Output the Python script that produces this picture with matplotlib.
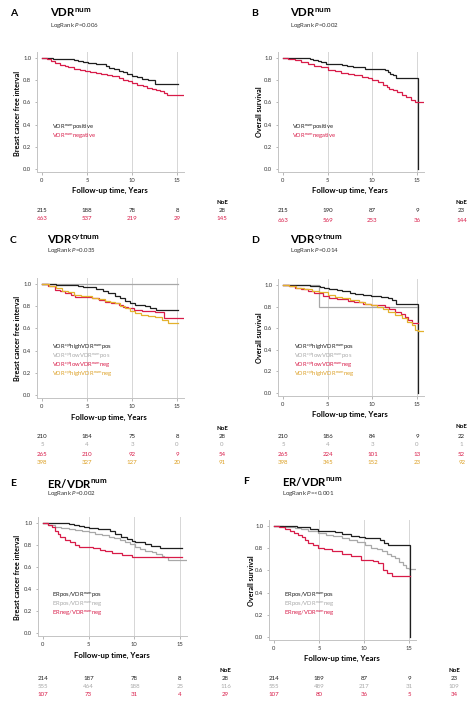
import matplotlib
matplotlib.use("Agg")
import matplotlib.pyplot as plt
import matplotlib.transforms as mtransforms

W, H = 474, 705

plt.rcParams['font.family'] = ['Lato', 'DejaVu Sans']
plt.rcParams['mathtext.fontset'] = 'custom'
plt.rcParams['mathtext.rm'] = 'Lato'
plt.rcParams['mathtext.it'] = 'Lato:italic'
plt.rcParams['mathtext.bf'] = 'Lato:bold'

BLACK = '#1e1e1e'
GRAY = '#a8a8a8'
RED = '#d81b48'
YELLOW = '#e3b12c'
YELLOW_TXT = '#dc9f22'

# ---- curve data (time in years, survival proportion) ----
A_pos_t = [0, 1.2, 2.9, 3.5, 4.0, 4.6, 5.1, 6.0, 6.8, 7.1, 7.4, 8.0, 8.6, 9.0, 9.4, 10.0, 10.5, 11.1, 11.8, 12.6, 15.1]
A_pos_s = [1.0, 0.995, 0.99, 0.98, 0.975, 0.965, 0.955, 0.95, 0.945, 0.93, 0.91, 0.9, 0.885, 0.875, 0.86, 0.84, 0.825, 0.81, 0.8, 0.77, 0.77]
A_neg_t = [0, 0.5, 1.0, 1.4, 2.0, 2.5, 2.9, 3.5, 4.2, 4.8, 5.3, 6.0, 6.6, 7.2, 7.8, 8.5, 9.0, 9.5, 10.0, 10.6, 11.2, 11.7, 12.2, 12.7, 13.1, 13.5, 13.85, 15.7]
A_neg_s = [1.0, 0.99, 0.975, 0.955, 0.94, 0.93, 0.915, 0.905, 0.895, 0.885, 0.875, 0.865, 0.855, 0.845, 0.835, 0.82, 0.805, 0.79, 0.775, 0.76, 0.745, 0.73, 0.725, 0.715, 0.705, 0.685, 0.665, 0.665]

B_pos_t = [0, 2.0, 3.0, 3.4, 3.9, 4.3, 4.8, 6.6, 7.2, 7.8, 9.2, 11.4, 11.8, 12.0, 12.3, 12.7, 15.1, 15.1]
B_pos_s = [1.0, 0.997, 0.99, 0.98, 0.97, 0.96, 0.946, 0.94, 0.93, 0.915, 0.9, 0.89, 0.875, 0.86, 0.845, 0.823, 0.823, 0.0]
B_neg_t = [0, 0.6, 1.3, 2.0, 2.8, 3.5, 4.2, 5.0, 5.8, 6.5, 7.3, 8.0, 8.8, 9.5, 10.0, 10.6, 11.2, 11.6, 11.9, 12.3, 12.8, 13.3, 13.8, 14.3, 14.8, 15.9]
B_neg_s = [1.0, 0.995, 0.98, 0.965, 0.946, 0.93, 0.915, 0.895, 0.88, 0.867, 0.856, 0.843, 0.83, 0.817, 0.8, 0.78, 0.76, 0.74, 0.72, 0.71, 0.69, 0.665, 0.645, 0.625, 0.6, 0.6]

C_hh_t = [0, 1.5, 2.9, 4.0, 4.6, 5.1, 6.0, 6.8, 7.3, 8.1, 8.7, 9.2, 9.8, 10.3, 11.4, 12.0, 12.7, 15.1]
C_hh_s = [1.0, 0.995, 0.99, 0.985, 0.975, 0.97, 0.955, 0.94, 0.915, 0.89, 0.87, 0.85, 0.83, 0.814, 0.8, 0.78, 0.763, 0.763]
C_lp_t = [0, 15.1]
C_lp_s = [1.0, 1.0]
C_ln_t = [0, 0.7, 1.4, 2.0, 2.6, 3.2, 3.7, 4.5, 5.5, 6.3, 7.0, 7.7, 8.5, 9.0, 9.6, 10.2, 11.1, 12.6, 13.5, 15.7]
C_ln_s = [1.0, 0.98, 0.95, 0.935, 0.92, 0.9, 0.885, 0.88, 0.872, 0.855, 0.84, 0.828, 0.81, 0.795, 0.784, 0.77, 0.754, 0.745, 0.694, 0.694]
C_hn_t = [0, 0.8, 1.5, 2.2, 2.9, 3.6, 4.3, 5.5, 6.2, 7.0, 7.6, 8.1, 8.7, 9.2, 9.8, 10.3, 11.0, 11.8, 12.5, 13.3, 14.0, 15.1]
C_hn_s = [1.0, 0.98, 0.96, 0.94, 0.925, 0.905, 0.89, 0.878, 0.865, 0.85, 0.838, 0.828, 0.805, 0.784, 0.76, 0.739, 0.725, 0.71, 0.7, 0.678, 0.648, 0.648]

D_hh_t = [0, 3.0, 4.1, 4.6, 5.1, 6.0, 6.6, 7.5, 8.1, 9.0, 9.9, 11.0, 11.8, 12.2, 12.7, 15.1, 15.1]
D_hh_s = [1.0, 0.995, 0.985, 0.97, 0.96, 0.955, 0.94, 0.93, 0.917, 0.905, 0.895, 0.89, 0.877, 0.86, 0.825, 0.825, 0.0]
D_lp_t = [0, 4.07, 15.1]
D_lp_s = [1.0, 0.8, 0.8]
D_ln_t = [0, 0.7, 1.34, 2.0, 2.8, 3.5, 4.0, 4.5, 5.1, 6.0, 7.3, 8.0, 9.0, 9.9, 11.4, 11.9, 12.5, 13.2, 13.7, 14.0, 14.4, 15.1]
D_ln_s = [1.0, 0.99, 0.975, 0.96, 0.945, 0.93, 0.923, 0.895, 0.877, 0.866, 0.855, 0.843, 0.828, 0.815, 0.793, 0.775, 0.753, 0.735, 0.706, 0.68, 0.645, 0.645]
D_hn_t = [0, 0.7, 1.5, 2.3, 3.2, 4.0, 5.0, 5.8, 6.6, 7.5, 8.5, 9.2, 9.9, 10.5, 11.2, 11.8, 12.5, 13.3, 13.9, 14.4, 14.8, 15.1, 15.9]
D_hn_s = [1.0, 0.99, 0.975, 0.96, 0.945, 0.935, 0.91, 0.89, 0.877, 0.86, 0.84, 0.828, 0.815, 0.795, 0.775, 0.753, 0.72, 0.69, 0.66, 0.63, 0.583, 0.57, 0.57]

E_pp_t = [0, 1.5, 2.8, 3.4, 3.9, 4.5, 5.0, 6.0, 6.8, 7.3, 7.9, 8.5, 9.2, 9.7, 10.1, 11.2, 11.8, 12.8, 15.2]
E_pp_s = [1.0, 0.997, 0.99, 0.985, 0.975, 0.965, 0.957, 0.95, 0.945, 0.925, 0.897, 0.875, 0.855, 0.84, 0.824, 0.81, 0.795, 0.77, 0.77]
E_pn_t = [0, 0.6, 1.3, 2.0, 2.8, 3.5, 4.3, 5.0, 5.7, 6.5, 7.2, 7.8, 8.4, 9.0, 9.5, 10.1, 10.6, 11.2, 11.9, 12.4, 13.0, 13.3, 13.7, 15.9]
E_pn_s = [1.0, 0.985, 0.966, 0.955, 0.945, 0.935, 0.925, 0.915, 0.9, 0.888, 0.875, 0.86, 0.842, 0.824, 0.805, 0.785, 0.765, 0.75, 0.734, 0.72, 0.703, 0.69, 0.664, 0.664]
E_nn_t = [0, 0.5, 0.95, 1.3, 1.6, 1.86, 2.4, 3.0, 3.5, 3.9, 5.5, 6.2, 6.8, 7.6, 8.6, 9.7, 15.2]
E_nn_s = [1.0, 0.985, 0.96, 0.93, 0.9, 0.875, 0.845, 0.825, 0.8, 0.78, 0.77, 0.755, 0.745, 0.73, 0.71, 0.69, 0.69]

F_pp_t = [0, 2.5, 3.4, 4.0, 4.9, 6.8, 7.5, 8.6, 9.4, 10.1, 11.8, 12.2, 12.7, 15.1, 15.1]
F_pp_s = [1.0, 0.995, 0.99, 0.975, 0.958, 0.946, 0.93, 0.907, 0.9, 0.89, 0.877, 0.85, 0.826, 0.826, 0.0]
F_pn_t = [0, 1.0, 2.3, 3.0, 3.8, 4.9, 5.8, 6.6, 7.5, 8.3, 9.2, 10.1, 10.8, 11.4, 12.0, 12.6, 13.0, 13.4, 13.9, 14.3, 14.7, 15.0, 15.9]
F_pn_s = [1.0, 0.995, 0.982, 0.97, 0.955, 0.937, 0.922, 0.907, 0.892, 0.875, 0.855, 0.826, 0.805, 0.79, 0.772, 0.75, 0.73, 0.712, 0.68, 0.65, 0.622, 0.61, 0.61]
F_nn_t = [0, 0.6, 1.2, 1.8, 2.2, 2.7, 3.1, 3.4, 3.8, 4.3, 4.9, 5.5, 6.4, 7.5, 8.6, 9.7, 11.0, 11.6, 12.1, 12.6, 13.1, 15.1]
F_nn_s = [1.0, 0.99, 0.975, 0.955, 0.94, 0.922, 0.9, 0.875, 0.847, 0.825, 0.802, 0.79, 0.772, 0.75, 0.727, 0.697, 0.685, 0.67, 0.606, 0.58, 0.547, 0.547]

# ---- numbers at risk (0, 5, 10, 15 years) and number of events ----
A_risk = [[215, 188, 78, 8], [663, 537, 219, 29]]
A_noe = [28, 145]
B_risk = [[215, 190, 87, 9], [663, 569, 253, 36]]
B_noe = [23, 144]
C_risk = [[210, 184, 75, 8], [5, 4, 3, 0], [265, 210, 92, 9], [398, 327, 127, 20]]
C_noe = [28, 0, 54, 91]
D_risk = [[210, 186, 84, 9], [5, 4, 3, 0], [265, 224, 101, 13], [398, 345, 152, 23]]
D_noe = [22, 1, 52, 92]
E_risk = [[214, 187, 78, 8], [555, 464, 188, 25], [107, 73, 31, 4]]
E_noe = [28, 116, 29]
F_risk = [[214, 189, 87, 9], [555, 489, 217, 31], [107, 80, 36, 5]]
F_noe = [23, 109, 34]

risk_times = [0, 5, 10, 15]
NOE_X = 20

lab_num2 = [r'VDR$^{\mathrm{num}}$positive', r'VDR$^{\mathrm{num}}$negative']
lab_cyt4 = [r'VDR$^{\mathrm{cyt}}$highVDR$^{\mathrm{num}}$pos',
            r'VDR$^{\mathrm{cyt}}$lowVDR$^{\mathrm{num}}$pos',
            r'VDR$^{\mathrm{cyt}}$lowVDR$^{\mathrm{num}}$neg',
            r'VDR$^{\mathrm{cyt}}$highVDR$^{\mathrm{num}}$neg']
lab_er3 = [r'ERpos/VDR$^{\mathrm{num}}$pos',
           r'ERpos/VDR$^{\mathrm{num}}$neg',
           r'ERneg/VDR$^{\mathrm{num}}$neg']

panels = [
    dict(letter='A', title=r'VDR$^{\mathbf{num}}$', p='0.006', ylabel='Breast cancer free interval',
         curves=[(A_pos_t, A_pos_s), (A_neg_t, A_neg_s)], colors=[BLACK, RED], txtcol=[BLACK, RED],
         labels=lab_num2, risk=A_risk, noe=A_noe,
         x0=42, x15=177, y1=58, y0=169,
         letter_xy=(10, 14), title_xy=(50, 13), lr_xy=(50, 25), leg_xy=(52, 127),
         xl_xy=(110, 190), yl_xy=(18, 113), noe_y=202, rows_y=[211, 219]),
    dict(letter='B', title=r'VDR$^{\mathbf{num}}$', p='0.002', ylabel='Overall survival',
         curves=[(B_pos_t, B_pos_s), (B_neg_t, B_neg_s)], colors=[BLACK, RED], txtcol=[BLACK, RED],
         labels=lab_num2, risk=B_risk, noe=B_noe,
         x0=283, x15=417, y1=58, y0=169,
         letter_xy=(251, 14), title_xy=(290, 13), lr_xy=(290, 25), leg_xy=(292, 127),
         xl_xy=(350, 190), yl_xy=(259, 112), noe_y=202, rows_y=[211, 220]),
    dict(letter='C', title=r'VDR$^{\mathbf{cytnum}}$', p='0.035', ylabel='Breast cancer free interval',
         curves=[(C_lp_t, C_lp_s), (C_hh_t, C_hh_s), (C_ln_t, C_ln_s), (C_hn_t, C_hn_s)],
         colors=[GRAY, BLACK, RED, YELLOW],
         txtcol=[BLACK, GRAY, RED, YELLOW_TXT],
         labels=lab_cyt4, risk=C_risk, noe=C_noe,
         x0=42, x15=177, y1=284, y0=395,
         letter_xy=(10, 240), title_xy=(47, 239), lr_xy=(47, 251), leg_xy=(52, 347.5),
         xl_xy=(109, 417), yl_xy=(18, 338), noe_y=428, rows_y=[436, 445, 454, 462]),
    dict(letter='D', title=r'VDR$^{\mathbf{cytnum}}$', p='0.014', ylabel='Overall survival',
         curves=[(D_lp_t, D_lp_s), (D_hh_t, D_hh_s), (D_ln_t, D_ln_s), (D_hn_t, D_hn_s)],
         colors=[GRAY, BLACK, RED, YELLOW],
         txtcol=[BLACK, GRAY, RED, YELLOW_TXT],
         labels=lab_cyt4, risk=D_risk, noe=D_noe,
         x0=283, x15=417, y1=285, y0=393,
         letter_xy=(251, 240), title_xy=(290, 239), lr_xy=(290, 251), leg_xy=(294, 347.5),
         xl_xy=(350, 414), yl_xy=(259, 338), noe_y=427, rows_y=[436, 445, 454, 462]),
    dict(letter='E', title=r'ER/VDR$^{\mathbf{num}}$', p='0.002', ylabel='Breast cancer free interval',
         curves=[(E_pn_t, E_pn_s), (E_pp_t, E_pp_s), (E_nn_t, E_nn_s)],
         colors=[GRAY, BLACK, RED], txtcol=[BLACK, GRAY, RED],
         labels=lab_er3, risk=E_risk, noe=E_noe,
         x0=43, x15=180, y1=523, y0=633,
         letter_xy=(10, 484), title_xy=(47, 483), lr_xy=(47, 494), leg_xy=(52, 595.5),
         xl_xy=(112, 655), yl_xy=(18, 577), noe_y=670, rows_y=[678, 687, 695]),
    dict(letter='F', title=r'ER/VDR$^{\mathbf{num}}$', p='<0.001', ylabel='Overall survival',
         curves=[(F_pn_t, F_pn_s), (F_pp_t, F_pp_s), (F_nn_t, F_nn_s)],
         colors=[GRAY, BLACK, RED], txtcol=[BLACK, GRAY, RED],
         labels=lab_er3, risk=F_risk, noe=F_noe,
         x0=274, x15=409, y1=526, y0=637,
         letter_xy=(243, 482), title_xy=(282, 482), lr_xy=(282, 493), leg_xy=(284, 595.5),
         xl_xy=(342, 658), yl_xy=(252, 581), noe_y=670, rows_y=[678, 687, 695]),
]

XLO, XHI = -0.6, 15.8
YLO, YHI = -0.03, 1.055

fig = plt.figure(figsize=(W / 100, H / 100), dpi=100)


def fx(px):
    return px / W


def fy(py):
    return 1 - py / H


for pn in panels:
    ppx = (pn['x15'] - pn['x0']) / 15.0
    ppy = (pn['y0'] - pn['y1'])
    left = pn['x0'] + XLO * ppx
    right = pn['x0'] + XHI * ppx
    top = pn['y1'] - (YHI - 1) * ppy
    bottom = pn['y0'] - YLO * ppy
    ax = fig.add_axes([fx(left), fy(bottom), (right - left) / W, (bottom - top) / H])

    for (t, s), c in zip(pn['curves'], pn['colors']):
        ax.plot(t, s, drawstyle='steps-post', color=c, lw=0.9, solid_joinstyle='miter')

    ax.set_xlim(XLO, XHI)
    ax.set_ylim(YLO, YHI)
    ax.set_xticks([0, 5, 10, 15])
    ax.set_yticks([0.0, 0.2, 0.4, 0.6, 0.8, 1.0])
    ax.set_yticklabels(['0.0', '0.2', '0.4', '0.6', '0.8', '1.0'])
    ax.tick_params(labelsize=4.2, length=1.8, width=0.5, color='#9a9a9a', pad=2,
                   labelcolor='#333333')
    ax.xaxis.grid(True, color='#d6d6d6', lw=0.7)
    ax.get_xgridlines()[0].set_visible(False)
    ax.set_axisbelow(True)
    for side in ['top', 'right']:
        ax.spines[side].set_visible(False)
    for side in ['left', 'bottom']:
        ax.spines[side].set_color('#c4c4c4')
        ax.spines[side].set_linewidth(0.7)

    # headings
    lx, ly = pn['letter_xy']
    fig.text(fx(lx), fy(ly), pn['letter'], fontsize=7.5, fontweight='bold', va='center', ha='left')
    tx, ty = pn['title_xy']
    fig.text(fx(tx), fy(ty), pn['title'], fontsize=8.2, fontweight='bold', va='center', ha='left')
    rx, ry = pn['lr_xy']
    fig.text(fx(rx), fy(ry), r'LogRank $P$=' + pn['p'], fontsize=4.4, va='center', ha='left',
             color='#333333')

    # axis labels
    xx, xy = pn['xl_xy']
    fig.text(fx(xx), fy(xy), 'Follow-up time, Years', fontsize=5.6, fontweight='bold',
             va='center', ha='center')
    yx, yy = pn['yl_xy']
    fig.text(fx(yx), fy(yy), pn['ylabel'], fontsize=5.2, fontweight='bold',
             va='center', ha='center', rotation=90)

    # legend text
    gx, gy = pn['leg_xy']
    step = 9.0
    for i, (lab, c) in enumerate(zip(pn['labels'], pn['txtcol'])):
        fig.text(fx(gx), fy(gy + i * step), lab, fontsize=4.2, color=c, va='center', ha='left')

    # risk table
    trans = mtransforms.blended_transform_factory(ax.transData, fig.transFigure)
    ax.text(NOE_X, fy(pn['noe_y']), 'NoE', transform=trans, fontsize=4.4, fontweight='bold',
            ha='center', va='center', clip_on=False)
    for row, n_events, c, yrow in zip(pn['risk'], pn['noe'], pn['txtcol'], pn['rows_y']):
        for t, n in zip(risk_times, row):
            ax.text(t, fy(yrow), str(n), transform=trans, fontsize=4.4, color=c,
                    ha='center', va='center', clip_on=False)
        ax.text(NOE_X, fy(yrow), str(n_events), transform=trans, fontsize=4.4, color=c,
                ha='center', va='center', clip_on=False)

fig.savefig('out.png', dpi=100, facecolor='white')
